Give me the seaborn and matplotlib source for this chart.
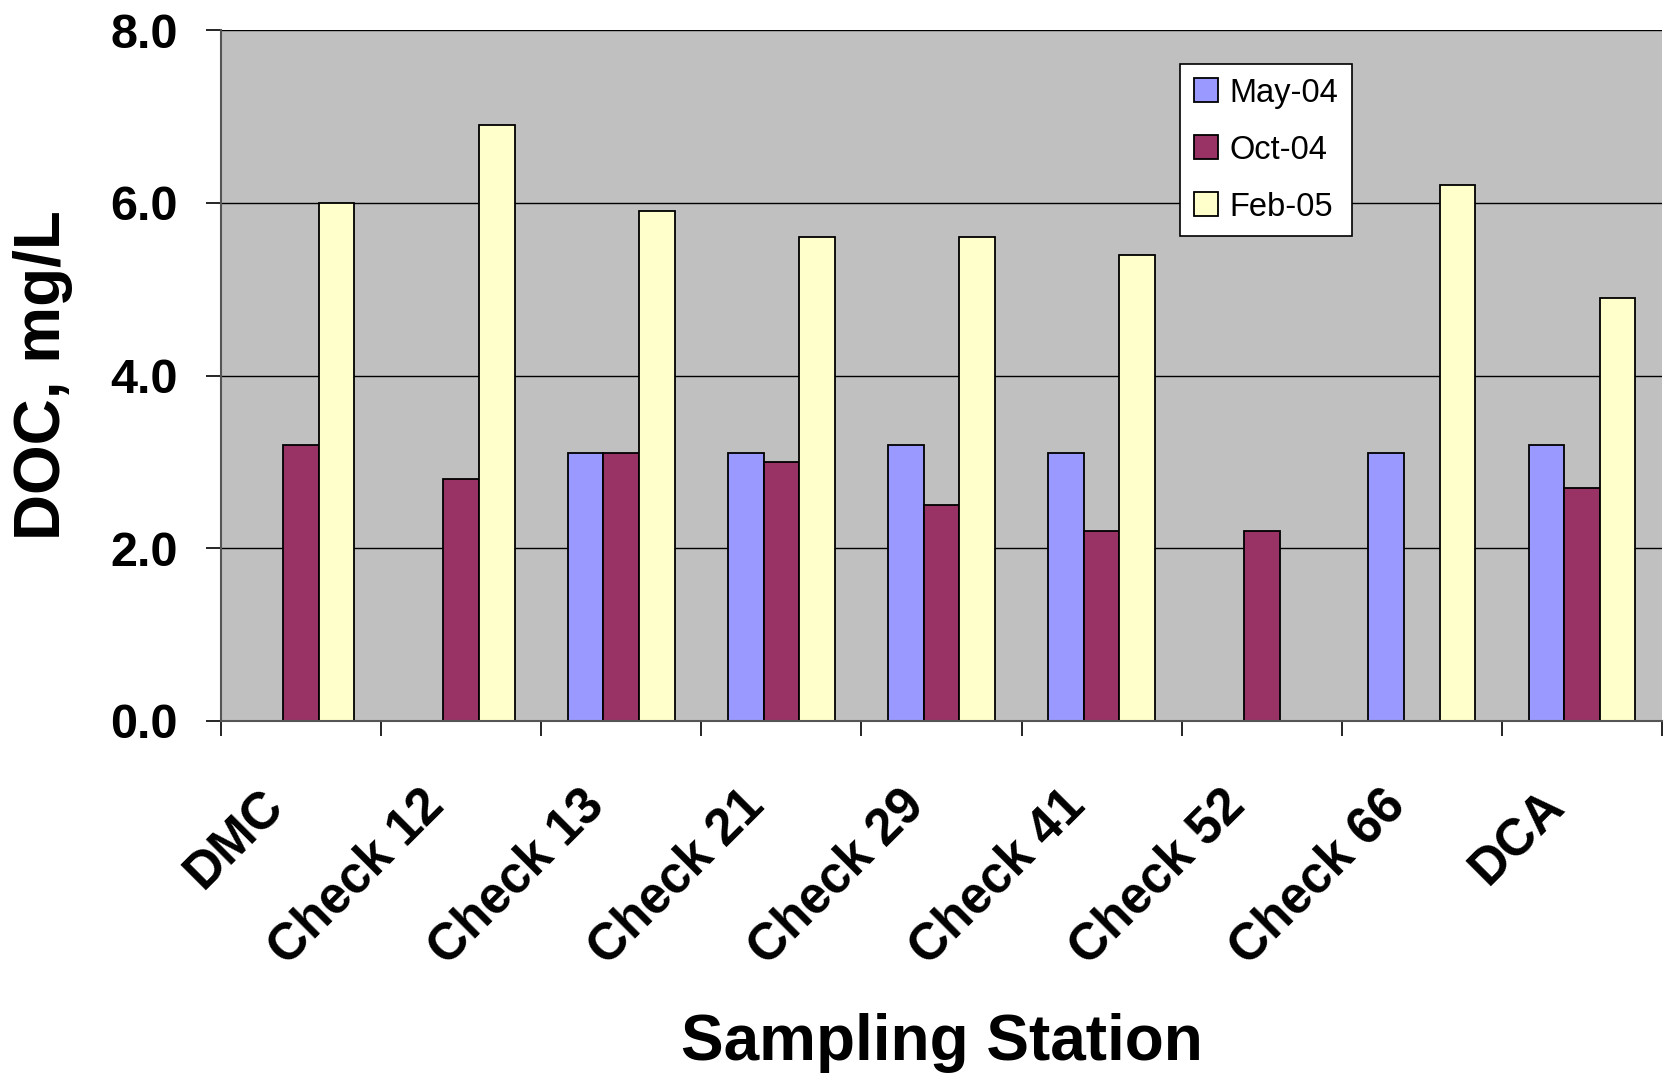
import numpy as np
import pandas as pd
import matplotlib
matplotlib.use("Agg")
import matplotlib.pyplot as plt
import matplotlib.transforms as mtransforms
import seaborn as sns

stations = ["DMC", "Check 12", "Check 13", "Check 21", "Check 29",
            "Check 41", "Check 52", "Check 66", "DCA"]
may_04 = [np.nan, np.nan, 3.1, 3.1, 3.2, 3.1, np.nan, 3.1, 3.2]
oct_04 = [3.2, 2.8, 3.1, 3.0, 2.5, 2.2, 2.2, np.nan, 2.7]
feb_05 = [6.0, 6.9, 5.9, 5.6, 5.6, 5.4, np.nan, 6.2, 4.9]
series_names = ["May-04", "Oct-04", "Feb-05"]
colors = ["#9999FF", "#993366", "#FFFFCC"]
y_ticks = [0, 2, 4, 6, 8]

rows = []
for name, vals in zip(series_names, [may_04, oct_04, feb_05]):
    for st, v in zip(stations, vals):
        rows.append({"Station": st, "Series": name, "DOC": v})
df = pd.DataFrame(rows)

sns.set_theme(style="white")
plt.rcParams["font.family"] = ["Liberation Sans", "DejaVu Sans"]
plt.rcParams["text.color"] = "black"
plt.rcParams["axes.labelcolor"] = "black"
plt.rcParams["xtick.color"] = "black"
plt.rcParams["ytick.color"] = "black"

W, H = 1669, 1079
fig = plt.figure(figsize=(W / 100, H / 100), dpi=100)
L, R, T, B = 221, 1662, 30, 721
ax = fig.add_axes([L / W, 1 - B / H, (R - L) / W, (B - T) / H])
ax.set_facecolor("#C0C0C0")

sns.barplot(data=df, x="Station", y="DOC", hue="Series", order=stations,
            hue_order=series_names, palette=colors, width=0.667,
            errorbar=None, edgecolor="black", linewidth=1.3, ax=ax,
            saturation=1)

ax.set_ylim(0, 8)
ax.set_xlim(-0.5, len(stations) - 0.5)
ax.set_yticks(y_ticks)
ax.set_yticklabels([f"{v:.1f}" for v in y_ticks], fontsize=35, fontweight="bold")
ax.yaxis.grid(True, color="black", linewidth=1.0)
ax.set_axisbelow(True)
ax.tick_params(axis="y", direction="out", length=11, width=1.2, color="black",
               pad=20, left=True, labelcolor="black")

# category boundary ticks
ax.set_xticks(np.arange(-0.5, len(stations), 1.0), minor=True)
ax.tick_params(axis="x", which="minor", direction="out", length=11, width=1.2,
               color="black", bottom=True)
ax.tick_params(axis="x", which="major", length=0, pad=43, labelcolor="black")
ax.set_xticks(range(len(stations)))
ax.set_xticklabels(stations, rotation=45, ha="right", rotation_mode="anchor",
                   fontsize=37, fontweight="bold")
offset = mtransforms.ScaledTranslation(-42 / 100, 0, fig.dpi_scale_trans)
for lbl in ax.get_xticklabels():
    lbl.set_transform(lbl.get_transform() + offset)

for s in ["top", "right"]:
    ax.spines[s].set_visible(False)
ax.spines["left"].set_color("#555555")
ax.spines["left"].set_linewidth(1.5)
ax.spines["bottom"].set_color("#555555")
ax.spines["bottom"].set_linewidth(1.5)

ax.set_xlabel("Sampling Station", fontsize=46, fontweight="bold", color="black")
ax.set_ylabel("DOC, mg/L", fontsize=46, fontweight="bold", color="black")
ax.xaxis.set_label_coords(0.5, -(1043 - B) / (B - T))
ax.xaxis.label.set_va("center")
ax.yaxis.set_label_coords((43 - L) / (R - L), 0.5)
ax.yaxis.label.set_va("center")

leg = ax.legend(loc="upper left", bbox_to_anchor=(0.6655, 0.951),
                frameon=True, fontsize=23.5, fancybox=False, edgecolor="black",
                framealpha=1, handlelength=0.75, handleheight=0.75,
                handletextpad=0.35, labelspacing=0.8, borderpad=0.42,
                borderaxespad=0)
leg.get_frame().set_linewidth(1.2)
for t in leg.get_texts():
    t.set_color("black")

fig.savefig("out.png", dpi=100)
